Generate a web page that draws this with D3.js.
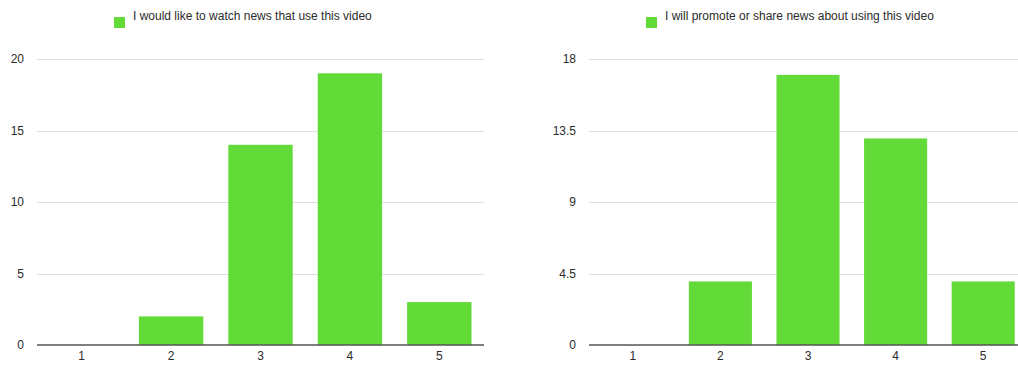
<!DOCTYPE html>
<html>
<head>
<meta charset="utf-8">
<script src="https://cdn.jsdelivr.net/npm/d3@7"></script>
<style>
  body { margin: 0; background: #fff; }
  svg { display: block; font-family: "Liberation Sans", Arial, Helvetica, sans-serif; }
</style>
</head>
<body>
<svg width="1018" height="365"></svg>
<script>
// data
const categories = ["1", "2", "3", "4", "5"];
const watchValues = [0, 2, 14, 19, 3];
const shareValues = [0, 4, 17, 13, 4];
const watchTicks = [0, 5, 10, 15, 20];
const shareTicks = [0, 4.5, 9, 13.5, 18];
const watchLabel = "I would like to watch news that use this video";
const shareLabel = "I will promote or share news about using this video";

const svg = d3.select("svg");
const green = "#62da38";
const textColor = "#2b2b2b";

// one chart panel
const drawPanel = function (opts) {
  const g = svg.append("g");

  const xScale = d3.scaleBand()
    .domain(categories)
    .range([opts.x0, opts.x1])
    .paddingInner(0.28)
    .paddingOuter(0.14);

  const yScale = d3.scaleLinear()
    .domain([0, d3.max(opts.ticks)])
    .range([345, 59]);

  // gridlines
  g.selectAll("line.grid")
    .data(opts.ticks.slice(1))
    .enter()
    .append("line")
    .attr("class", "grid")
    .attr("x1", opts.x0)
    .attr("x2", opts.gridEnd)
    .attr("y1", d => Math.round(yScale(d)) + 0.5)
    .attr("y2", d => Math.round(yScale(d)) + 0.5)
    .attr("stroke", "#dedede")
    .attr("stroke-width", 1);

  // y tick labels
  g.selectAll("text.ytick")
    .data(opts.ticks)
    .enter()
    .append("text")
    .attr("class", "ytick")
    .attr("x", opts.labelX)
    .attr("y", d => yScale(d))
    .attr("dy", "0.35em")
    .attr("text-anchor", "end")
    .attr("font-size", 12)
    .attr("fill", textColor)
    .text(d => d);

  // bars
  g.selectAll("rect.bar")
    .data(opts.values)
    .enter()
    .append("rect")
    .attr("class", "bar")
    .attr("x", (d, i) => xScale(categories[i]))
    .attr("y", d => yScale(d))
    .attr("width", xScale.bandwidth())
    .attr("height", d => yScale(0) - yScale(d))
    .attr("fill", green);

  // baseline
  g.append("line")
    .attr("x1", opts.x0)
    .attr("x2", opts.gridEnd)
    .attr("y1", yScale(0))
    .attr("y2", yScale(0))
    .attr("stroke", "#555")
    .attr("stroke-width", 1.5);

  // x labels
  g.selectAll("text.xtick")
    .data(categories)
    .enter()
    .append("text")
    .attr("class", "xtick")
    .attr("x", d => xScale(d) + xScale.bandwidth() / 2)
    .attr("y", 360)
    .attr("text-anchor", "middle")
    .attr("font-size", 12)
    .attr("fill", textColor)
    .text(d => d);

  // legend
  g.append("rect")
    .attr("x", opts.legendX)
    .attr("y", 17)
    .attr("width", 11)
    .attr("height", 11)
    .attr("fill", green);
  g.append("text")
    .attr("x", opts.legendX + 19)
    .attr("y", 20)
    .attr("font-size", 12)
    .attr("fill", textColor)
    .text(opts.label);
};

drawPanel({
  values: watchValues, ticks: watchTicks, label: watchLabel,
  x0: 37, x1: 484, gridEnd: 484, labelX: 24, legendX: 114
});
drawPanel({
  values: shareValues, ticks: shareTicks, label: shareLabel,
  x0: 589, x1: 1027, gridEnd: 1018, labelX: 576, legendX: 646
});
</script>
</body>
</html>
